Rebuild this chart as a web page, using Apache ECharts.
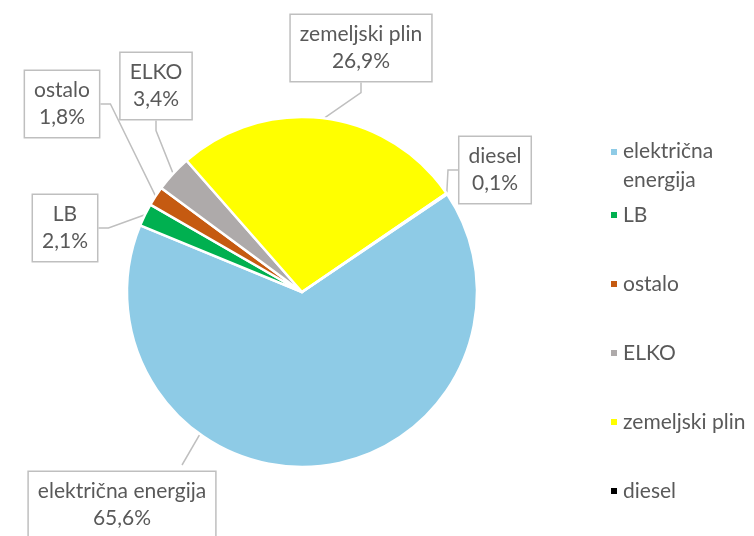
<!DOCTYPE html>
<html>
<head>
<meta charset="utf-8">
<script src="https://cdn.jsdelivr.net/npm/echarts@6/dist/echarts.min.js"></script>
<style>
  html, body { margin: 0; padding: 0; background: #fff; }
  #main { width: 754px; height: 536px; }
</style>
</head>
<body>
<div id="main"></div>
<script>
// data
const names = ['električna energija', 'LB', 'ostalo', 'ELKO', 'zemeljski plin', 'diesel'];
const shares = [65.6, 2.1, 1.8, 3.4, 26.9, 0.1];
const colors = ['#8ECBE6', '#00B050', '#C55A11', '#AEAAAA', '#FFFF00', '#000000'];

// centres of the callout boxes
const labelPos = [[122, 505], [65, 228], [62, 104], [156, 86], [361, 48], [495, 170]];

const CX = 302, CY = 292, R = 175;

const chart = echarts.init(document.getElementById('main'));

const pieData = names.map((n, i) => ({
    name: n,
    value: shares[i],
    itemStyle: { color: colors[i] }
}));

const txt = '#595959';
const font = 'Lato';

chart.setOption({
    animation: false,
    legend: [{
        orient: 'vertical',
        left: 604,
        top: 132,
        data: [names[0]],
        // square sits on the first text line, like Excel does
        icon: 'path://M0,0L8,0L8,8L0,8Z M0,36L0.05,36L0.05,36.05Z',
        itemWidth: 8,
        itemHeight: 36,
        formatter: n => n.replace(' ', '\n'),
        textStyle: { fontFamily: font, fontSize: 21, color: txt, lineHeight: 29 }
    }, {
        orient: 'vertical',
        left: 604,
        top: 198,
        data: names.slice(1),
        icon: 'rect',
        itemWidth: 8,
        itemHeight: 8,
        itemGap: 45,
        textStyle: { fontFamily: font, fontSize: 21, color: txt, lineHeight: 24 }
    }],
    series: [{
        type: 'pie',
        center: [CX, CY],
        radius: [0, R],
        startAngle: 34,
        clockwise: true,
        data: pieData,
        itemStyle: { borderColor: '#fff', borderWidth: 2.5 },
        emphasis: { disabled: true },
        label: {
            show: true,
            formatter: p => p.name + '\n' + p.value.toFixed(1).replace('.', ',') + '%',
            fontFamily: font,
            fontSize: 21,
            lineHeight: 27,
            color: txt,
            align: 'center',
            backgroundColor: '#fff',
            borderColor: '#BFBFBF',
            borderWidth: 1.5,
            padding: [6, 9]
        },
        labelLine: {
            show: true,
            length: 10,
            length2: 10,
            lineStyle: { color: '#BFBFBF', width: 1.5 }
        },
        labelLayout: p => {
            const pos = labelPos[p.dataIndex];
            const out = { x: pos[0], y: pos[1], align: 'center', verticalAlign: 'middle' };
            if (p.dataIndex === 0) {
                // Excel points this callout at the lower-left rim, not the slice middle
                const a = 216 * Math.PI / 180;
                const r = R - 10;
                out.labelLinePoints = [
                    [CX + r * Math.sin(a), CY - r * Math.cos(a)],
                    [pos[0] + 60, pos[1] - 40],
                    [pos[0] + 60, pos[1] - 40]
                ];
            }
            return out;
        }
    }]
});
</script>
</body>
</html>
